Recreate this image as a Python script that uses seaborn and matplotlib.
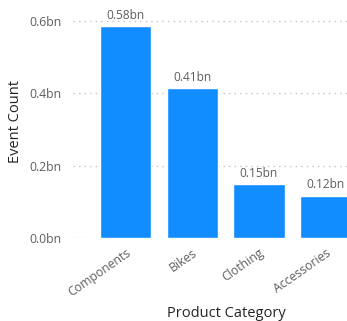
import matplotlib
matplotlib.use("Agg")
import matplotlib.pyplot as plt
import seaborn as sns
import pandas as pd

categories = ["Components", "Bikes", "Clothing", "Accessories"]
values = [0.585, 0.414, 0.149, 0.117]
labels = ["0.58bn", "0.41bn", "0.15bn", "0.12bn"]
yticks = [0.0, 0.2, 0.4, 0.6]
ytick_labels = ["0.0bn", "0.2bn", "0.4bn", "0.6bn"]

sns.set_theme(style="white")
plt.rcParams["font.family"] = ["Open Sans", "DejaVu Sans"]

df = pd.DataFrame({"cat": categories, "val": values})

fig = plt.figure(figsize=(3.47, 3.21), dpi=100)
ax = fig.add_axes([73/347, (321-238)/321, (347-73)/347, (238-5)/321])
sns.barplot(data=df, x="cat", y="val", color="#118DFF", saturation=1, width=0.77, ax=ax)
ax.set_xlim(-0.79, 3.32)
ax.set_ylim(0, 0.643)
ax.set_yticks(yticks)
ax.set_yticklabels(ytick_labels, color="#605E5C", fontsize=8.8)
ax.set_xticks(range(len(categories)))
ax.set_xticklabels(categories, rotation=35, ha="right", rotation_mode="anchor", color="#605E5C", fontsize=8.8)
ax.tick_params(axis="y", length=0, pad=8)
ax.tick_params(axis="x", length=0, pad=6)
for s in ax.spines.values():
    s.set_visible(False)
ax.grid(axis="y", linestyle=(0, (1, 3)), color="#C8C6C4", linewidth=1)
ax.set_axisbelow(True)
for i, (v, l) in enumerate(zip(values, labels)):
    ax.text(i, v + 0.012, l, ha="center", va="bottom", fontsize=8.6, color="#605E5C")
ax.set_ylabel("Event Count", fontsize=10.5, color="#252423")
ax.yaxis.set_label_coords(-0.182, 0.5)
ax.set_xlabel("Product Category", fontsize=10.5, color="#252423")
ax.xaxis.set_label_coords(0.558, -0.293)
fig.savefig("out.png", dpi=100)
